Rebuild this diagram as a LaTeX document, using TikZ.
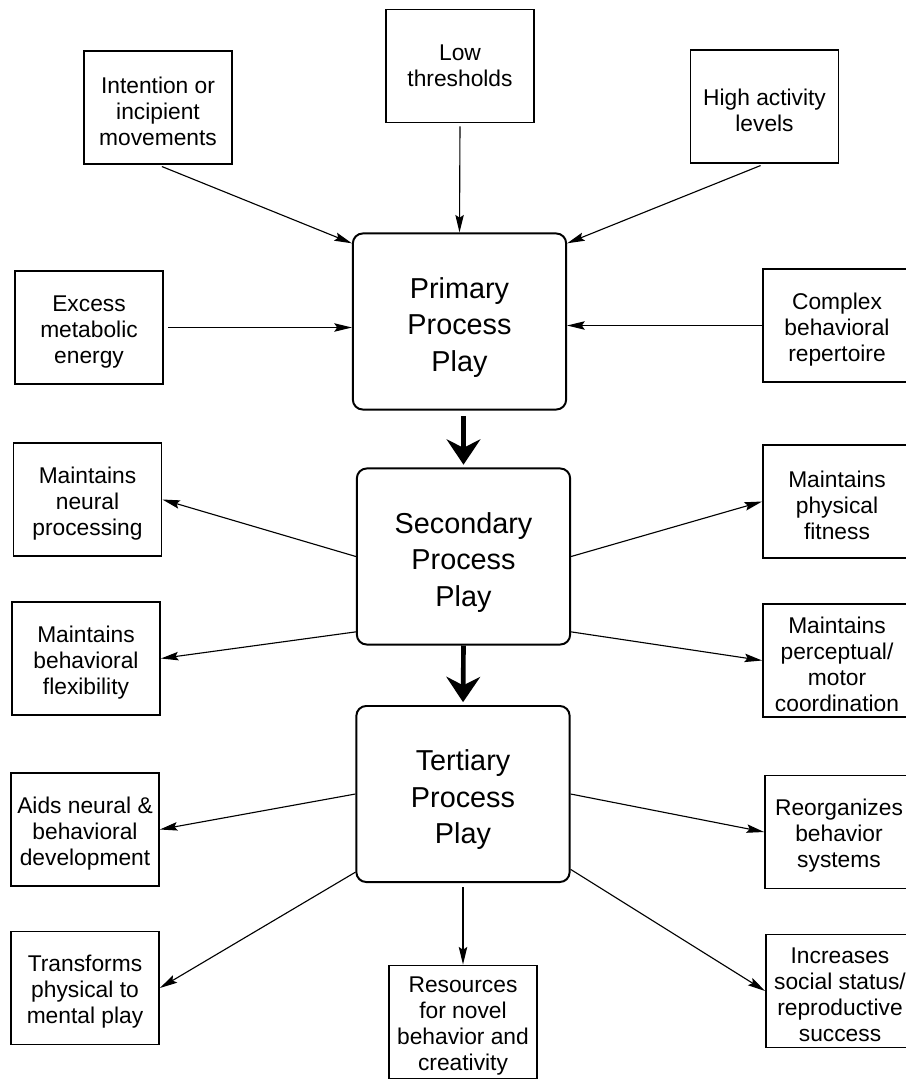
\documentclass[tikz,border=0pt]{standalone}
\usepackage{fontspec}
\setmainfont{Liberation Sans}
\usetikzlibrary{arrows.meta}
\newcommand{\boxstrut}{\rule{0pt}{17pt}}
\newcommand{\playstrut}{\rule{0pt}{23pt}}
\begin{document}
\begin{tikzpicture}[x=0.025cm,y=-0.025cm,
    smallbox/.style={draw,line width=1.2pt,minimum width=3.7cm,minimum height=2.83cm,
        inner sep=0pt,align=center,font=\fontsize{16.2}{18.5}\selectfont},
    playbox/.style={draw,line width=1.4pt,rounded corners=7pt,minimum width=5.33cm,
        minimum height=4.4cm,inner sep=0pt,align=center,font=\fontsize{20.5}{26}\selectfont},
    link/.style={-{Stealth[length=12.5pt,width=6pt,inset=2pt]},line width=0.8pt},
    flow/.style={-{Stealth[length=18pt,width=24pt,inset=6pt]},line width=3.3pt}]
    \useasboundingbox (0,0) rectangle (906,1079);

    \node[playbox] (primary) at (459.5,321.5) {\playstrut Primary\\Process\\Play};
    \node[playbox] (secondary) at (463.5,556.5) {\playstrut Secondary\\Process\\Play};
    \node[playbox] (tertiary) at (463,794) {\playstrut Tertiary\\Process\\Play};

    \node[smallbox] (intention) at (158,107.5) {\boxstrut Intention or\\incipient\\movements};
    \node[smallbox] (low) at (460,66) {Low\\thresholds};
    \node[smallbox] (high) at (764.5,106.5) {\boxstrut High activity\\levels};
    \node[smallbox] (excess) at (89,327.5) {\boxstrut Excess\\metabolic\\energy};
    \node[smallbox] (complex) at (837,325.5) {\boxstrut Complex\\behavioral\\repertoire};

    \node[smallbox] (neural) at (87.5,499.5) {\boxstrut Maintains\\neural\\processing};
    \node[smallbox] (flex) at (86,658.5) {\boxstrut Maintains\\behavioral\\flexibility};
    \node[smallbox] (fitness) at (837,501.5) {\boxstrut Maintains\\physical\\fitness};
    \node[smallbox] (motor) at (837,660.5) {\boxstrut Maintains\\perceptual/\\motor\\coordination};

    \node[smallbox] (aids) at (85,829.5) {\boxstrut Aids neural \&\\behavioral\\development};
    \node[smallbox] (transforms) at (85,988) {\boxstrut Transforms\\physical to\\mental play};
    \node[smallbox] (resources) at (463,1022) {\boxstrut Resources\\for novel\\behavior and\\creativity};
    \node[smallbox] (reorg) at (839,832) {\boxstrut Reorganizes\\behavior\\systems};
    \node[smallbox] (status) at (840,991) {\boxstrut Increases\\social status/\\reproductive\\success};

    \draw[link,shorten <=3pt] (intention.south) -- (primary.144);
    \draw[link,shorten <=2pt] (low.south) -- (primary.north);
    \draw[link,shorten <=3pt] (high.south) -- (primary.36);
    \draw[link,shorten <=3pt] (excess.east) -- (excess.east -| primary.west);
    \draw[link] (complex.west) -- (complex.west -| primary.east);

    \draw[flow,shorten <=4pt,shorten >=2pt] (secondary.north |- primary.south) -- (secondary.north);
    \draw[link] (secondary.west) -- (neural.east);
    \draw[link] (secondary.215) -- (flex.east);
    \draw[link] (secondary.east) -- (fitness.west);
    \draw[link] (secondary.-35) -- (motor.west);

    \draw[flow,shorten >=2pt] (secondary.south) -- (tertiary.north);
    \draw[link] (tertiary.west) -- (aids.east);
    \draw[link] (tertiary.216) -- (transforms.east);
    \draw[link,shorten <=3pt] (tertiary.south) -- (resources.north);
    \draw[link] (tertiary.east) -- (reorg.west);
    \draw[link] (tertiary.-35) -- (status.west);
\end{tikzpicture}
\end{document}
